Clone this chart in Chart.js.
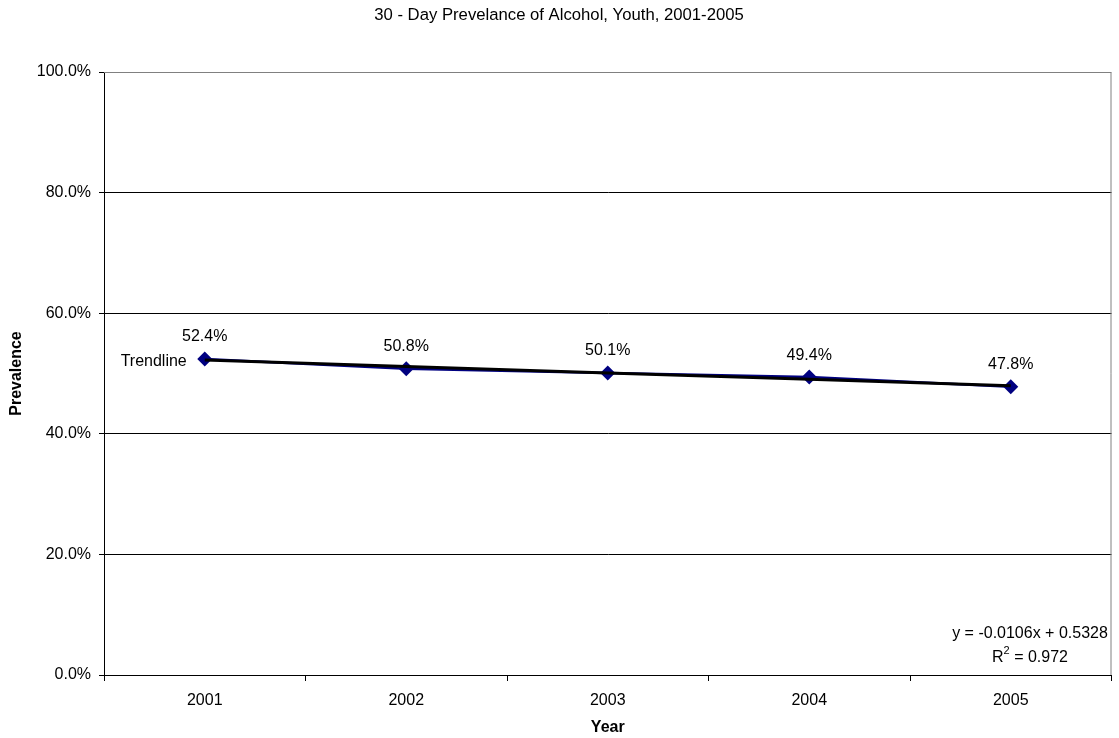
<!DOCTYPE html>
<html>
<head>
<meta charset="utf-8">
<script src="https://cdn.jsdelivr.net/npm/chart.js@4"></script>
<style>
  html, body { margin: 0; padding: 0; background: #fff; }
  #wrap { width: 1119px; height: 738px; }
</style>
</head>
<body>
<div id="wrap"><canvas id="c" width="1119" height="738"></canvas></div>
<script>
const years = ['2001', '2002', '2003', '2004', '2005'];
const prevalence = [52.4, 50.8, 50.1, 49.4, 47.8];
const yTicks = [0, 20, 40, 60, 80, 100];
const trendSlope = -0.0106;
const trendIntercept = 0.5328;
const trendR2 = 0.972;

const FONT = '"Liberation Sans", Arial, sans-serif';

// linear trendline from its fitted coefficients (x = 1..n)
const trend = years.map((_, i) => (trendSlope * (i + 1) + trendIntercept) * 100);

const overlay = {
  id: 'overlay',
  afterDraw(chart) {
    const { ctx, chartArea: a } = chart;
    ctx.save();
    // plot border, right and top
    ctx.strokeStyle = '#808080';
    ctx.lineWidth = 1;
    ctx.beginPath();
    ctx.moveTo(a.left, a.top + 0.5);
    ctx.lineTo(a.right - 0.5, a.top + 0.5);
    ctx.lineTo(a.right - 0.5, a.bottom);
    ctx.stroke();

    // title
    ctx.fillStyle = '#000';
    ctx.font = '16.7px ' + FONT;
    ctx.textAlign = 'center';
    ctx.textBaseline = 'middle';
    ctx.fillText('30 - Day Prevelance of Alcohol, Youth, 2001-2005', 559, 15);

    // value labels
    ctx.font = '16px ' + FONT;
    const meta = chart.getDatasetMeta(0);
    meta.data.forEach((pt, i) => {
      ctx.fillText(prevalence[i].toFixed(1) + '%', pt.x, pt.y - 22);
    });

    // trendline label
    const t0 = chart.getDatasetMeta(1).data[0];
    ctx.textAlign = 'right';
    ctx.fillText('Trendline', t0.x - 18, t0.y + 1);

    // equation
    ctx.textAlign = 'center';
    const sign = trendIntercept >= 0 ? ' + ' : ' - ';
    const eq = 'y = ' + trendSlope.toFixed(4) + 'x' + sign + Math.abs(trendIntercept).toFixed(4);
    ctx.fillText(eq, 1030, 634);
    const rest = ' = ' + trendR2.toFixed(3);
    const wR = ctx.measureText('R').width;
    const wRest = ctx.measureText(rest).width;
    ctx.font = '11px ' + FONT;
    const wSup = ctx.measureText('2').width;
    const sx = 1030 - (wR + wSup + wRest) / 2;
    ctx.textAlign = 'left';
    ctx.font = '16px ' + FONT;
    ctx.fillText('R', sx, 658);
    ctx.font = '11px ' + FONT;
    ctx.fillText('2', sx + wR, 651);
    ctx.font = '16px ' + FONT;
    ctx.fillText(rest, sx + wR + wSup, 658);
    ctx.restore();
  }
};

new Chart(document.getElementById('c'), {
  type: 'line',
  data: {
    labels: years,
    datasets: [
      {
        label: 'Prevalence',
        data: prevalence,
        borderColor: '#000080',
        backgroundColor: '#000080',
        borderWidth: 2.5,
        pointStyle: 'rectRot',
        pointRadius: 7.5,
        pointBorderWidth: 0,
        tension: 0,
        order: 1
      },
      {
        label: 'Trendline',
        data: trend,
        borderColor: '#000',
        borderWidth: 3,
        pointRadius: 0,
        tension: 0,
        order: 0
      }
    ]
  },
  options: {
    responsive: false,
    animation: false,
    layout: { padding: { top: 72, right: 3, left: 0, bottom: 0 } },
    plugins: { legend: { display: false }, title: { display: false }, tooltip: { enabled: false } },
    scales: {
      x: {
        offset: true,
        grid: { offset: true, drawOnChartArea: false, drawTicks: true, tickLength: 6, color: '#000' },
        border: { color: '#000', width: 1 },
        ticks: { color: '#000', font: { family: FONT, size: 16 }, padding: 10, maxRotation: 0 },
        title: { display: true, text: 'Year', color: '#000', font: { family: FONT, size: 16, weight: 'bold' }, padding: { top: 0, bottom: 1 } },
        afterFit(s) { s.height = 63; }
      },
      y: {
        min: 0,
        max: 100,
        afterBuildTicks(s) { s.ticks = yTicks.map(v => ({ value: v })); },
        grid: {
          color: (c) => (c.tick && c.tick.value === 100 ? '#808080' : '#000'),
          tickColor: '#000',
          tickLength: 5
        },
        border: { color: '#000', width: 1 },
        ticks: { color: '#000', font: { family: FONT, size: 16 }, padding: 8, callback: v => v.toFixed(1) + '%' },
        title: { display: true, text: 'Prevalence', color: '#000', font: { family: FONT, size: 16, weight: 'bold' }, padding: { top: 7, bottom: 0 } },
        afterFit(s) { s.width = 104; }
      }
    }
  },
  plugins: [overlay]
});
</script>
</body>
</html>
